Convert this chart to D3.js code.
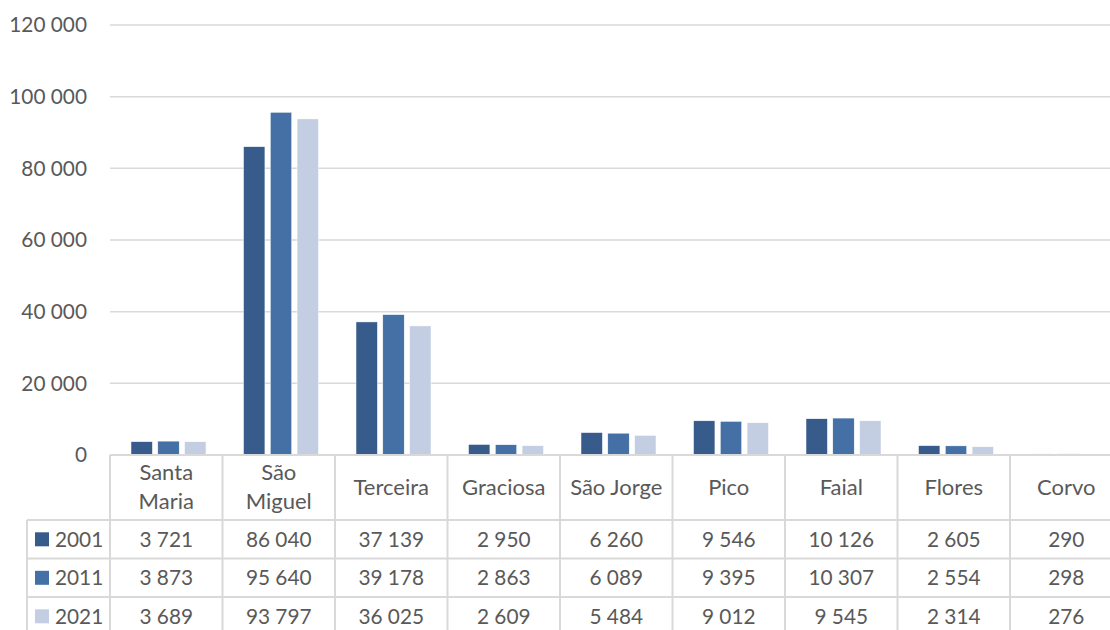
<!DOCTYPE html>
<html><head><meta charset="utf-8">
<script src="https://cdn.jsdelivr.net/npm/d3@7"></script>
<style>body{margin:0;background:#fff;}svg{display:block;font-family:Lato,"Open Sans",sans-serif;}</style>
</head><body><svg id="c" width="1110" height="630"></svg>
<script>
const categories = ["Santa Maria","São Miguel","Terceira","Graciosa","São Jorge","Pico","Faial","Flores","Corvo"];
const wrapLabels = ["Santa Maria","São Miguel"];
const seriesNames = ["2001","2011","2021"];
const v2001 = [3721,86040,37139,2950,6260,9546,10126,2605,290];
const v2011 = [3873,95640,39178,2863,6089,9395,10307,2554,298];
const v2021 = [3689,93797,36025,2609,5484,9012,9545,2314,276];
const yTicks = [0,20000,40000,60000,80000,100000,120000];
const colors = ["#375B8A","#4470A6","#C3CEE3"];

const series = [v2001,v2011,v2021];
const svg = d3.select("#c");
const left = 110, catW = 112.5, right = left + catW*categories.length;
const y0 = 455, yTop = 25;
const numSize = 20.8, labSize = 22;
const x = d3.scaleBand().domain(categories).range([left,right]).paddingInner(0).paddingOuter(0);
const xs = d3.scaleBand().domain(seriesNames).range([21,21+75]).paddingInner(0.2).paddingOuter(0);
const y = d3.scaleLinear().domain([0,120000]).range([y0,yTop]);
const fmt = v => d3.format(",")(v).replace(/,/g," ");
const txt = "#595959", grid = "#D9D9D9";

// gridlines
svg.append("g").selectAll("line").data(yTicks.slice(1)).join("line")
  .attr("x1",left).attr("x2",1110).attr("y1",d=>y(d)).attr("y2",d=>y(d))
  .attr("stroke",grid).attr("stroke-width",1.5);
// y tick labels
svg.append("g").selectAll("text").data(yTicks).join("text")
  .attr("x",87).attr("y",d=>y(d)).attr("dy","0.35em").attr("text-anchor","end")
  .attr("fill",txt).attr("font-size",numSize).text(d=>fmt(d));

// bars
categories.forEach((c,i)=>{
  svg.append("g").selectAll("rect").data(series.map((s,k)=>({k,v:s[i]}))).join("rect")
    .attr("x",d=>x(c)+xs(seriesNames[d.k])).attr("width",xs.bandwidth())
    .attr("y",d=>y(d.v)).attr("height",d=>y0-y(d.v))
    .attr("fill",d=>colors[d.k]).attr("stroke","#fff").attr("stroke-width",0.5);
});

// table
const rowTop = [455,520,558.5,597];
const rowBot = 630;
const g = svg.append("g").attr("stroke",grid).attr("stroke-width",2);
g.append("line").attr("x1",left).attr("x2",1110).attr("y1",455).attr("y2",455);
rowTop.slice(1).forEach(yy=>g.append("line").attr("x1",27).attr("x2",1110).attr("y1",yy).attr("y2",yy));
g.append("line").attr("x1",27).attr("x2",27).attr("y1",520).attr("y2",rowBot);
categories.forEach(c=>g.append("line").attr("x1",x(c)).attr("x2",x(c)).attr("y1",455).attr("y2",rowBot));

// header labels
categories.forEach(c=>{
  const cx = x(c)+catW/2;
  const t = svg.append("text").attr("text-anchor","middle").attr("fill",txt).attr("font-size",labSize);
  if (wrapLabels.includes(c)) {
    const parts = c.split(" ");
    t.append("tspan").attr("x",cx).attr("y",472).attr("dy","0.35em").text(parts[0]);
    t.append("tspan").attr("x",cx).attr("y",501).attr("dy","0.35em").text(parts.slice(1).join(" "));
  } else {
    t.attr("x",cx).attr("y",487).attr("dy","0.35em").text(c);
  }
});
// rows
seriesNames.forEach((s,k)=>{
  const cy = rowTop[k+1] + 19.3;
  svg.append("rect").attr("x",35).attr("y",cy-7).attr("width",14).attr("height",14).attr("fill",colors[k]);
  svg.append("text").attr("x",55).attr("y",cy).attr("dy","0.35em").attr("fill",txt).attr("font-size",numSize).text(s);
  svg.append("g").selectAll("text").data(series[k]).join("text")
    .attr("x",(d,i)=>x(categories[i])+catW/2).attr("y",cy).attr("dy","0.35em")
    .attr("text-anchor","middle").attr("fill",txt).attr("font-size",numSize).text(d=>fmt(d));
});
</script></body></html>
